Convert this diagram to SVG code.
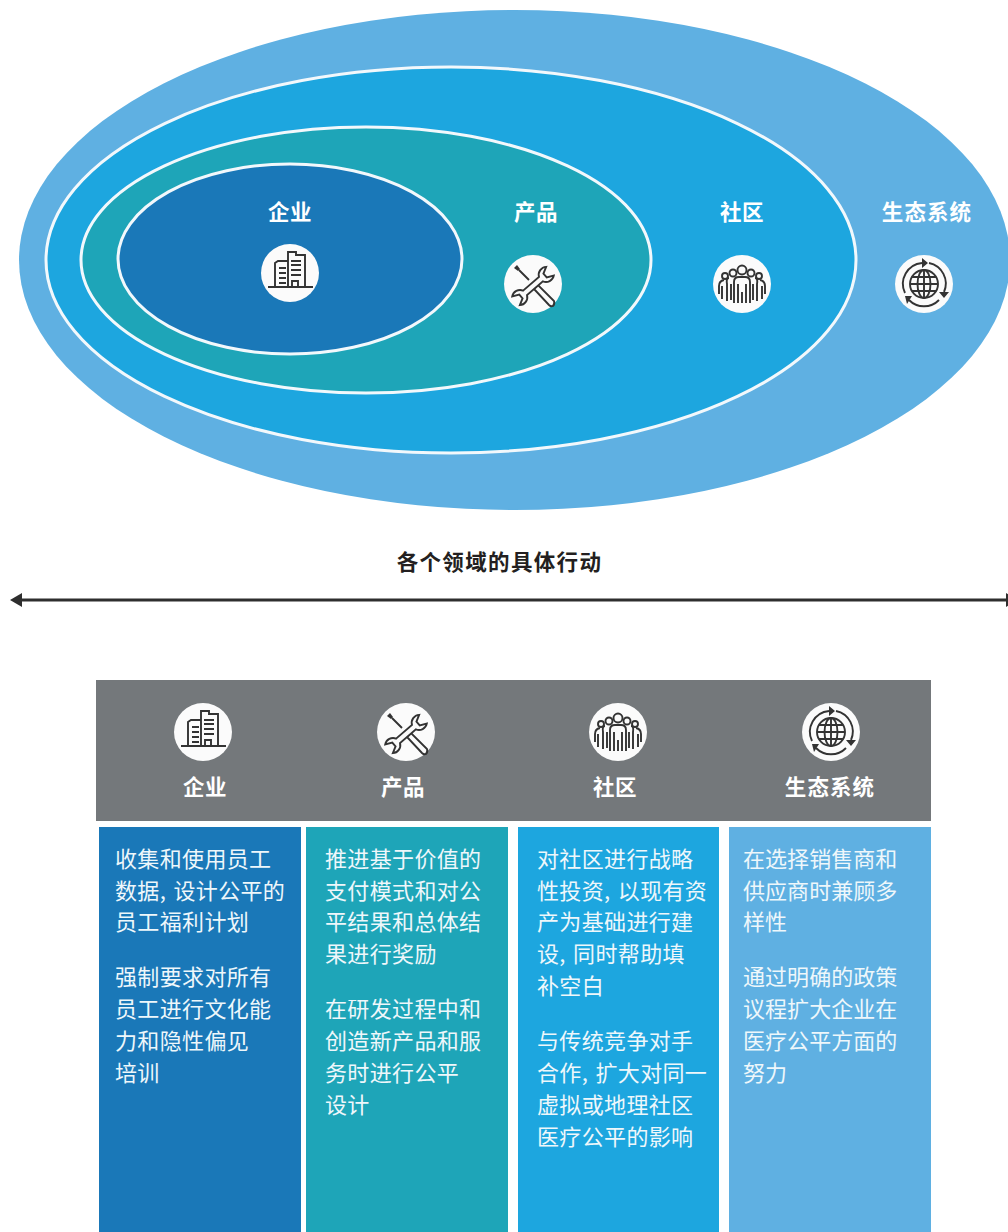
<svg xmlns="http://www.w3.org/2000/svg" width="1008" height="1232" viewBox="0 0 1008 1232">
<style>
text{font-family:"Noto Sans CJK SC","Liberation Sans",sans-serif}
.h{font-size:21.5px;font-weight:700;fill:#fff;text-anchor:middle;letter-spacing:.6px}
.h4{letter-spacing:1.1px}
.b{font-size:22px;font-weight:400;fill:#eef7fb;letter-spacing:.35px;word-spacing:2px}
.c4{letter-spacing:.05px}
.t{font-size:21.5px;font-weight:700;fill:#231f20;text-anchor:middle;letter-spacing:1.35px}
.e{stroke:#f2f8fc;stroke-width:3}
.i{fill:none;stroke:#333;stroke-width:1.9}
.w{fill:#fbfbfb}
.d{fill:#333;stroke:none}
</style>
<defs>
<marker id="ah" markerUnits="userSpaceOnUse" markerWidth="14" markerHeight="18" refX="1" refY="9" orient="auto-start-reverse"><path d="M13 9L1 2V16Z" fill="#2e2e2e"/></marker>
<symbol id="bld" viewBox="-29 -29 58 58" overflow="visible"><circle class="w" r="29"/><g class="i"><path d="M-22 14H23M-15 14V-10L-12 -12H-2M-2 14V-21H6V-18H15V14M-11 -5H-4M-11 0H-4M-11 5H-4M-11 10H-4M1 -12H11M1 -8H11M1 -3H11M1 2H11M2 14V8H8V14"/></g></symbol>
<symbol id="tls" viewBox="-29 -29 58 58" overflow="visible"><circle class="w" r="29"/><g class="i"><path d="M-14 -14L-4 -4M1 5L5 1L21 17Q22 20 20 22Q18 23 16 21Z"/><path class="d" d="M-19 -16L-16 -19L-13 -15L-15 -13Z"/><g transform="translate(0 2) rotate(-41)"><path class="w" stroke="#333" stroke-width="1.900" d="M-10.500 -3L10.500 -3A8 8 0 0 1 22.500 -5.800L16 -2.500V2.500L22.500 5.800A8 8 0 0 1 10.500 3L-10.500 3A8 8 0 0 1 -22.500 5.800L-16 2.500V-2.500L-22.500 -5.800A8 8 0 0 1 -10.500 -3Z"/></g></g></symbol>
<symbol id="ppl" viewBox="-29 -29 58 58" overflow="visible"><circle class="w" r="29"/><g class="i"><circle cx="0" cy="-14" r="4.500"/><circle cx="-9" cy="-11" r="3.500"/><circle cx="9" cy="-11" r="3.500"/><circle cx="-17" cy="-8" r="3"/><circle cx="17" cy="-8" r="3"/><path d="M-8 19V-2Q-8 -7 -3 -7H3Q8 -7 8 -2V19M-4 0V19M4 0V19M0 8V19M-13 -6Q-16 -6 -15 0V17M13 -6Q16 -6 15 0V17M-18 -4Q-23 -3 -23 2V10M18 -4Q23 -3 23 2V10M-20 2V15M20 2V15M-11 0V16M11 0V16"/></g></symbol>
<symbol id="glb" viewBox="-29 -29 58 58" overflow="visible"><circle class="w" r="29"/><g class="i"><circle r="14"/><ellipse rx="6.500" ry="14"/><path d="M0 -14V14M-14 0H14M-12 -7H12M-12 7H12"/><path d="M-19 9A21 21 0 0 1 -2 -21M5 -21A21 21 0 0 1 20 8M15 16A21 21 0 0 1 -15 16"/></g><path class="d" d="M4 -21L-2 -26V-16ZM20 14L15 8H25ZM-19 12L-12 12L-17 20Z"/></symbol>
</defs>
<rect width="1008" height="1232" fill="#fff"/>
<g id="rings">
<ellipse id="ring-ecosystem" cx="514.500" cy="260" rx="495.500" ry="250" fill="#5fb0e2"/>
<ellipse id="ring-community" class="e" cx="451" cy="260" rx="405" ry="193" fill="#1da6df"/>
<ellipse id="ring-product" class="e" cx="366" cy="260" rx="285" ry="133" fill="#1ea5b8"/>
<ellipse id="ring-enterprise" class="e" cx="290" cy="259" rx="172" ry="95" fill="#1a78b8"/>
</g>
<g id="node-enterprise"><text class="h" x="290" y="220">企业</text><use href="#bld" x="261" y="244" width="58" height="58"/></g>
<g id="node-product"><text class="h" x="536" y="220">产品</text><use href="#tls" x="504" y="255" width="58" height="58"/></g>
<g id="node-community"><text class="h" x="742" y="220">社区</text><use href="#ppl" x="713" y="255" width="58" height="58"/></g>
<g id="node-ecosystem"><text class="h h4" x="927" y="220">生态系统</text><use href="#glb" x="895" y="255" width="58" height="58"/></g>
<text class="t" x="499.500" y="570">各个领域的具体行动</text>
<g id="connectors"><line x1="22" y1="600" x2="1006" y2="600" stroke="#2e2e2e" stroke-width="3" marker-start="url(#ah)" marker-end="url(#ah)"/></g>
<g id="header">
<rect x="96" y="680" width="835" height="141" fill="#74787b"/>
<g id="head-enterprise"><use href="#bld" x="174" y="703" width="58" height="58"/><text class="h" x="205" y="795">企业</text></g>
<g id="head-product"><use href="#tls" x="377" y="703" width="58" height="58"/><text class="h" x="403" y="795">产品</text></g>
<g id="head-community"><use href="#ppl" x="589" y="703" width="58" height="58"/><text class="h" x="615" y="795">社区</text></g>
<g id="head-ecosystem"><use href="#glb" x="802" y="703" width="58" height="58"/><text class="h h4" x="830" y="795">生态系统</text></g>
</g>
<g id="col-enterprise"><rect x="99" y="827" width="202" height="405" fill="#1a78b8"/>
<text class="b" x="115" y="867">收集和使用员工</text><text class="b" x="115" y="899">数据, 设计公平的</text><text class="b" x="115" y="930">员工福利计划</text><text class="b" x="115" y="985">强制要求对所有</text><text class="b" x="115" y="1017">员工进行文化能</text><text class="b" x="115" y="1049">力和隐性偏见</text><text class="b" x="115" y="1081">培训</text></g>
<g id="col-product"><rect x="306" y="827" width="202" height="405" fill="#1ea5b8"/>
<text class="b" x="325" y="867">推进基于价值的</text><text class="b" x="325" y="899">支付模式和对公</text><text class="b" x="325" y="930">平结果和总体结</text><text class="b" x="325" y="962">果进行奖励</text><text class="b" x="325" y="1017">在研发过程中和</text><text class="b" x="325" y="1049">创造新产品和服</text><text class="b" x="325" y="1081">务时进行公平</text><text class="b" x="325" y="1113">设计</text></g>
<g id="col-community"><rect x="518" y="827" width="201" height="405" fill="#1da6df"/>
<text class="b" x="537" y="867">对社区进行战略</text><text class="b" x="537" y="899">性投资, 以现有资</text><text class="b" x="537" y="930">产为基础进行建</text><text class="b" x="537" y="962">设, 同时帮助填</text><text class="b" x="537" y="994">补空白</text><text class="b" x="537" y="1049">与传统竞争对手</text><text class="b" x="537" y="1081">合作, 扩大对同一</text><text class="b" x="537" y="1113">虚拟或地理社区</text><text class="b" x="537" y="1145">医疗公平的影响</text></g>
<g id="col-ecosystem"><rect x="729" y="827" width="202" height="405" fill="#5fb0e2"/>
<text class="b c4" x="743" y="867">在选择销售商和</text><text class="b c4" x="743" y="899">供应商时兼顾多</text><text class="b c4" x="743" y="930">样性</text><text class="b c4" x="743" y="985">通过明确的政策</text><text class="b c4" x="743" y="1017">议程扩大企业在</text><text class="b c4" x="743" y="1049">医疗公平方面的</text><text class="b c4" x="743" y="1081">努力</text></g>
</svg>
